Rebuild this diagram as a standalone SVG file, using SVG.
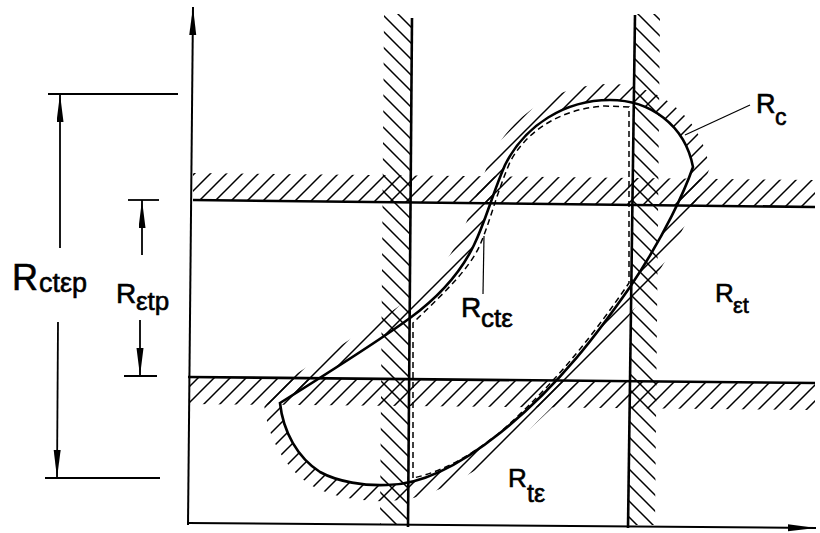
<svg xmlns="http://www.w3.org/2000/svg" width="820" height="533" viewBox="0 0 820 533">
<defs>
<style>
.ax{stroke:#000;stroke-width:2;fill:none}
.ln{stroke:#000;stroke-width:2.6;fill:none}
.cv{stroke:#000;stroke-width:2.6;fill:none;stroke-linejoin:miter}
.ds{stroke:#000;stroke-width:1.5;fill:none;stroke-dasharray:6 4}
.dim{stroke:#000;stroke-width:1.8;fill:none}
.thin{stroke:#000;stroke-width:1.2;fill:none}
.lab{font-family:"Liberation Sans",Arial,sans-serif;fill:#000;stroke:#000;stroke-width:0.6}
</style>
<pattern id="hf" patternUnits="userSpaceOnUse" width="16" height="16">
<path d="M-4,4 L4,-4 M0,16 L16,0 M12,20 L20,12" stroke="#000" stroke-width="1.5"/>
</pattern>
<pattern id="hb" patternUnits="userSpaceOnUse" width="16" height="16">
<path d="M-4,12 L4,20 M0,0 L16,16 M12,-4 L20,4" stroke="#000" stroke-width="1.5"/>
</pattern>
<marker id="ar" markerUnits="userSpaceOnUse" markerWidth="30" markerHeight="8" refX="28" refY="3.5" orient="auto">
<path d="M0,0 L28,3.5 L0,7 Z" fill="#000"/>
</marker>
<path id="rc" d="M280,403 C320,378 380,340 410,318 C440,296 462,270 474,245 C486,220 492,195 505,165 C525,125 565,100 610,100 C650,100 685,125 693,167 C685,190 665,235 630,287 C600,330 560,385 500,433 C460,465 420,485 387,485 C365,486 338,482 320,472 C298,458 283,432 280,403 Z"/>
<mask id="out" maskUnits="userSpaceOnUse" x="0" y="0" width="820" height="533">
<rect width="820" height="533" fill="#fff"/>
<use href="#rc" fill="#000"/>
</mask>
</defs>
<rect width="820" height="533" fill="#fff"/>

<g id="hatching">
<polygon points="193,200 815,207 815,180 193,173" fill="url(#hf)"/>
<polygon points="190,377 815,383 815,410 190,404" fill="url(#hf)"/>
<polygon points="384,14 412,14 408,525 380,525" fill="url(#hb)"/>
<polygon points="635,14 660,14 655,525 628,525" fill="url(#hb)"/>
<g mask="url(#out)">
<use href="#rc" fill="none" stroke="url(#hf)" stroke-width="32"/>
</g>
</g>

<g id="axes">
<line class="ax" x1="188" y1="525" x2="193" y2="7" marker-end="url(#ar)"/>
<line class="ax" x1="188" y1="523" x2="816" y2="528" marker-end="url(#ar)"/>
</g>

<g id="boundaries">
<line class="ln" x1="193" y1="200" x2="815" y2="207"/>
<line class="ln" x1="188" y1="377" x2="815" y2="383"/>
<line class="ln" x1="412" y1="18" x2="408" y2="527"/>
<line class="ln" x1="635" y1="15" x2="628" y2="528"/>
</g>

<g id="region-Rc">
<use href="#rc" class="cv"/>
<path class="ds" d="M413,478 L413,323 L418,318 C445,292 470,268 480,245 C490,222 496,195 510,162 C528,128 565,108 605,106 L629,107 L629,283 C598,328 558,382 498,434 C470,456 442,472 413,478 Z"/>
</g>

<g id="connectors">
<line class="thin" x1="750" y1="105" x2="685" y2="135"/>
<line class="thin" x1="484" y1="236" x2="483" y2="294"/>
<line class="dim" x1="48" y1="94" x2="178" y2="94"/>
<line class="dim" x1="45" y1="478" x2="160" y2="478"/>
<line class="dim" x1="60" y1="248" x2="60" y2="94" marker-end="url(#ar)"/>
<line class="dim" x1="58" y1="322" x2="57" y2="478" marker-end="url(#ar)"/>
<line class="dim" x1="128" y1="200" x2="159" y2="200"/>
<line class="dim" x1="124" y1="376" x2="157" y2="376"/>
<line class="dim" x1="142" y1="255" x2="142" y2="200" marker-end="url(#ar)"/>
<line class="dim" x1="140" y1="320" x2="140" y2="376" marker-end="url(#ar)"/>
</g>

<g id="labels" class="lab">
<text x="12" y="290" font-size="36">R<tspan x="39" y="292" font-size="27">ctεp</tspan></text>
<text x="116" y="303" font-size="28">R<tspan x="136" y="310" font-size="26">εtp</tspan></text>
<text x="461" y="317" font-size="28">R<tspan x="481" y="327" font-size="26">ctε</tspan></text>
<text x="508" y="487" font-size="26">R<tspan x="527" y="502" font-size="25">tε</tspan></text>
<text x="715" y="302" font-size="26">R<tspan x="733" y="313" font-size="22">εt</tspan></text>
<text x="756" y="113" font-size="27">R<tspan x="775" y="125" font-size="23">c</tspan></text>
</g>
</svg>
